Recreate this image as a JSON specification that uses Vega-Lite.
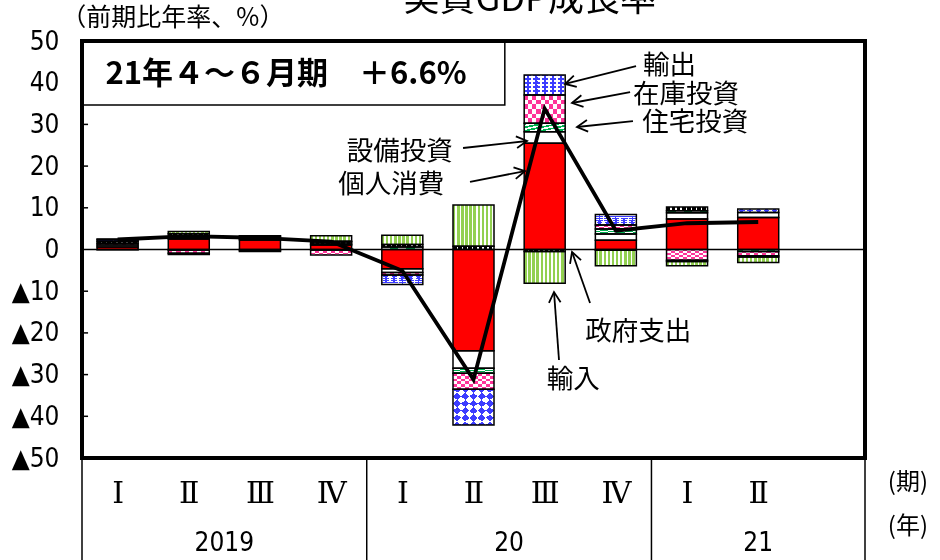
{
 "$schema": "https://vega.github.io/schema/vega-lite/v6.json",
 "width": 783,
 "height": 417,
 "autosize": {"type": "none"},
 "padding": {"left": 82, "top": 41, "right": 75, "bottom": 102},
 "background": "white",
 "config": {
  "view": {"stroke": null},
  "axis": {"grid": false, "domain": false, "ticks": false, "title": null, "labelColor": "black"}
 },
 "datasets": {
  "contrib": [
   {"t": 0.5, "c": "個人消費", "v": 0.6}, {"t": 1.5, "c": "個人消費", "v": 2.5}, {"t": 2.5, "c": "個人消費", "v": 2.3}, {"t": 3.5, "c": "個人消費", "v": 1.1}, {"t": 4.5, "c": "個人消費", "v": -4.6},
   {"t": 5.5, "c": "個人消費", "v": -24.3}, {"t": 6.5, "c": "個人消費", "v": 25.5}, {"t": 7.5, "c": "個人消費", "v": 2.2}, {"t": 8.5, "c": "個人消費", "v": 7.3}, {"t": 9.5, "c": "個人消費", "v": 7.7},
   {"t": 0.5, "c": "設備投資", "v": 0.5}, {"t": 1.5, "c": "設備投資", "v": 0.4}, {"t": 2.5, "c": "設備投資", "v": 0.2}, {"t": 3.5, "c": "設備投資", "v": -0.1}, {"t": 4.5, "c": "設備投資", "v": -0.9},
   {"t": 5.5, "c": "設備投資", "v": -4.2}, {"t": 6.5, "c": "設備投資", "v": 2.75}, {"t": 7.5, "c": "設備投資", "v": 1.5}, {"t": 8.5, "c": "設備投資", "v": 1.5}, {"t": 9.5, "c": "設備投資", "v": 1.2},
   {"t": 0.5, "c": "住宅投資", "v": -0.05}, {"t": 1.5, "c": "住宅投資", "v": -0.1}, {"t": 2.5, "c": "住宅投資", "v": 0.2}, {"t": 3.5, "c": "住宅投資", "v": 0.2}, {"t": 4.5, "c": "住宅投資", "v": 0.6},
   {"t": 5.5, "c": "住宅投資", "v": -1.2}, {"t": 6.5, "c": "住宅投資", "v": 2.05}, {"t": 7.5, "c": "住宅投資", "v": 1.2}, {"t": 8.5, "c": "住宅投資", "v": 0.5}, {"t": 9.5, "c": "住宅投資", "v": -0.5},
   {"t": 0.5, "c": "在庫投資", "v": 0.4}, {"t": 1.5, "c": "在庫投資", "v": -0.8}, {"t": 2.5, "c": "在庫投資", "v": -0.3}, {"t": 3.5, "c": "在庫投資", "v": -1.2}, {"t": 4.5, "c": "在庫投資", "v": -0.6},
   {"t": 5.5, "c": "在庫投資", "v": -3.8}, {"t": 6.5, "c": "在庫投資", "v": 6.75}, {"t": 7.5, "c": "在庫投資", "v": 1.0}, {"t": 8.5, "c": "在庫投資", "v": -2.6}, {"t": 9.5, "c": "在庫投資", "v": -1.0},
   {"t": 0.5, "c": "政府支出", "v": 0.5}, {"t": 1.5, "c": "政府支出", "v": 0.9}, {"t": 2.5, "c": "政府支出", "v": 0.5}, {"t": 3.5, "c": "政府支出", "v": 0.5}, {"t": 4.5, "c": "政府支出", "v": 0.6},
   {"t": 5.5, "c": "政府支出", "v": 0.8}, {"t": 6.5, "c": "政府支出", "v": -0.5}, {"t": 7.5, "c": "政府支出", "v": -0.2}, {"t": 8.5, "c": "政府支出", "v": 0.9}, {"t": 9.5, "c": "政府支出", "v": -0.3},
   {"t": 0.5, "c": "輸出", "v": 0.4}, {"t": 1.5, "c": "輸出", "v": -0.3}, {"t": 2.5, "c": "輸出", "v": 0.1}, {"t": 3.5, "c": "輸出", "v": 0.2}, {"t": 4.5, "c": "輸出", "v": -2.3},
   {"t": 5.5, "c": "輸出", "v": -8.6}, {"t": 6.5, "c": "輸出", "v": 4.8}, {"t": 7.5, "c": "輸出", "v": 2.5}, {"t": 8.5, "c": "輸出", "v": -0.3}, {"t": 9.5, "c": "輸出", "v": 0.8},
   {"t": 0.5, "c": "輸入", "v": 0.1}, {"t": 1.5, "c": "輸入", "v": 0.5}, {"t": 2.5, "c": "輸入", "v": -0.2}, {"t": 3.5, "c": "輸入", "v": 1.3}, {"t": 4.5, "c": "輸入", "v": 2.2},
   {"t": 5.5, "c": "輸入", "v": 9.9}, {"t": 6.5, "c": "輸入", "v": -7.6}, {"t": 7.5, "c": "輸入", "v": -3.7}, {"t": 8.5, "c": "輸入", "v": -1.0}, {"t": 9.5, "c": "輸入", "v": -1.3}
  ],
  "gdp": [
   {"t": 0.5, "gdp": 2.4}, {"t": 1.5, "gdp": 3.2}, {"t": 2.5, "gdp": 2.8}, {"t": 3.5, "gdp": 1.9}, {"t": 4.5, "gdp": -5.1},
   {"t": 5.5, "gdp": -31.2}, {"t": 6.5, "gdp": 33.8}, {"t": 7.5, "gdp": 4.5}, {"t": 8.5, "gdp": 6.3}, {"t": 9.5, "gdp": 6.6}
  ],
  "years": [{"label": "2019", "t": 2}, {"label": "20", "t": 6}, {"label": "21", "t": 9.5}],
  "seps": [{"t": 0}, {"t": 4}, {"t": 8}, {"t": 11}],
  "ticks": [{"yv": -40}, {"yv": -30}, {"yv": -20}, {"yv": -10}, {"yv": 10}, {"yv": 20}, {"yv": 30}, {"yv": 40}],
  "ann": [
   {"label": "輸出", "x1": 7.783, "y1": 44.0, "x2": 6.786, "y2": 39.69, "ang": 165.4, "tx": 7.88, "ty": 44.0},
   {"label": "在庫投資", "x1": 7.70, "y1": 37.75, "x2": 6.884, "y2": 35.13, "ang": 169.3, "tx": 7.74, "ty": 37.05},
   {"label": "住宅投資", "x1": 7.74, "y1": 30.81, "x2": 6.954, "y2": 29.38, "ang": 173.9, "tx": 7.87, "ty": 30.34},
   {"label": "設備投資", "x1": 5.353, "y1": 24.34, "x2": 6.252, "y2": 26.02, "ang": -6.2, "tx": 3.72, "ty": 23.38},
   {"label": "個人消費", "x1": 5.451, "y1": 16.19, "x2": 6.224, "y2": 18.82, "ang": -11.3, "tx": 3.6, "ty": 15.47},
   {"label": "政府支出", "x1": 7.137, "y1": -12.83, "x2": 6.884, "y2": -0.6, "ang": -109.4, "tx": 7.07, "ty": -19.78},
   {"label": "輸入", "x1": 6.701, "y1": -26.5, "x2": 6.631, "y2": -10.19, "ang": -94.2, "tx": 6.53, "ty": -31.3}
  ]
 },
 "layer": [
  {
   "data": {"values": [{}]},
   "mark": {"type": "rule", "stroke": "black", "strokeWidth": 1.5},
   "encoding": {"y": {"datum": 0, "type": "quantitative", "scale": {"domain": [-50, 50], "nice": false, "zero": false}}}
  },
  {
   "data": {"name": "ticks"},
   "mark": {"type": "rule", "stroke": "black", "strokeWidth": 1.5},
   "encoding": {
    "x": {"datum": 0, "type": "quantitative"},
    "x2": {"datum": 0.085},
    "y": {"field": "yv", "type": "quantitative"}
   }
  },
  {
   "data": {"name": "seps"},
   "mark": {"type": "rule", "stroke": "black", "strokeWidth": 1.5},
   "encoding": {
    "x": {"field": "t", "type": "quantitative"},
    "y": {"datum": -50, "type": "quantitative"},
    "y2": {"datum": -80}
   }
  },
  {
   "data": {"name": "contrib"},
   "transform": [
    {"calculate": "indexof(['個人消費','設備投資','住宅投資','在庫投資','政府支出','輸出','輸入'], datum.c)", "as": "ord"},
    {"stack": "v", "groupby": ["t"], "sort": [{"field": "ord", "order": "ascending"}], "as": ["v0", "v1"]}
   ],
   "encoding": {
    "x": {"field": "t", "type": "quantitative", "scale": {"domain": [0, 11], "nice": false, "zero": false, "padding": 0},
     "axis": {"values": [0.5, 1.5, 2.5, 3.5, 4.5, 5.5, 6.5, 7.5, 8.5, 9.5], "labelExpr": "['Ⅰ','Ⅱ','Ⅲ','Ⅳ'][floor(datum.value) % 4]", "labelFont": "DejaVu Serif", "labelFontSize": 30, "labelPadding": 35, "labelBaseline": "middle", "labelFlush": false, "labelOverlap": false}},
    "y": {"field": "v0", "type": "quantitative", "scale": {"domain": [-50, 50], "nice": false, "zero": false},
     "axis": {"values": [-50, -40, -30, -20, -10, 0, 10, 20, 30, 40, 50], "labelExpr": "datum.value < 0 ? '▲' + abs(datum.value) : '' + datum.value", "labelFont": "Liberation Sans Narrow, DejaVu Sans Condensed, Liberation Sans, sans-serif", "labelFontSize": 26, "labelPadding": 23, "labelOverlap": false}},
    "y2": {"field": "v1"}
   },
   "layer": [
    {"transform": [{"filter": "datum.c == '個人消費'"}], "mark": {"type": "bar", "width": 41, "fill": "#FF0000", "strokeWidth": 0}},
    {"transform": [{"filter": "datum.c == '設備投資'"}], "mark": {"type": "bar", "width": 41, "fill": "#FFFFFF", "strokeWidth": 0}},
    {"transform": [{"filter": "datum.c == '住宅投資'"}], "mark": {"type": "bar", "width": 41, "strokeWidth": 0,
     "fill": {"gradient": "linear", "x1": 0, "y1": 0, "x2": 1, "y2": 1, "stops": [
      {"offset": 0, "color": "#00B050"}, {"offset": 0.1, "color": "#00B050"}, {"offset": 0.1, "color": "#FFFFFF"}, {"offset": 0.2, "color": "#FFFFFF"},
      {"offset": 0.2, "color": "#00B050"}, {"offset": 0.3, "color": "#00B050"}, {"offset": 0.3, "color": "#FFFFFF"}, {"offset": 0.4, "color": "#FFFFFF"},
      {"offset": 0.4, "color": "#00B050"}, {"offset": 0.5, "color": "#00B050"}, {"offset": 0.5, "color": "#FFFFFF"}, {"offset": 0.6, "color": "#FFFFFF"},
      {"offset": 0.6, "color": "#00B050"}, {"offset": 0.7, "color": "#00B050"}, {"offset": 0.7, "color": "#FFFFFF"}, {"offset": 0.8, "color": "#FFFFFF"},
      {"offset": 0.8, "color": "#00B050"}, {"offset": 0.9, "color": "#00B050"}, {"offset": 0.9, "color": "#FFFFFF"}, {"offset": 1, "color": "#FFFFFF"}]}}},
    {"transform": [{"filter": "datum.c == '在庫投資'"}], "mark": {"type": "bar", "width": 41, "strokeWidth": 0,
     "fill": {"gradient": "linear", "x1": 0, "y1": 0, "x2": 1, "y2": 0, "stops": [
      {"offset": 0, "color": "#000000"}, {"offset": 0.1, "color": "#000000"}, {"offset": 0.1, "color": "#FFFFFF"}, {"offset": 0.2, "color": "#FFFFFF"},
      {"offset": 0.2, "color": "#000000"}, {"offset": 0.3, "color": "#000000"}, {"offset": 0.3, "color": "#FFFFFF"}, {"offset": 0.4, "color": "#FFFFFF"},
      {"offset": 0.4, "color": "#000000"}, {"offset": 0.5, "color": "#000000"}, {"offset": 0.5, "color": "#FFFFFF"}, {"offset": 0.6, "color": "#FFFFFF"},
      {"offset": 0.6, "color": "#000000"}, {"offset": 0.7, "color": "#000000"}, {"offset": 0.7, "color": "#FFFFFF"}, {"offset": 0.8, "color": "#FFFFFF"},
      {"offset": 0.8, "color": "#000000"}, {"offset": 0.9, "color": "#000000"}, {"offset": 0.9, "color": "#FFFFFF"}, {"offset": 1, "color": "#FFFFFF"}]}}},
    {"transform": [{"filter": "datum.c == '在庫投資'"}], "mark": {"type": "bar", "width": 41, "strokeWidth": 0, "blend": "difference",
     "fill": {"gradient": "linear", "x1": 0, "y1": 0, "x2": 0, "y2": 1, "stops": [
      {"offset": 0, "color": "#000000"}, {"offset": 0.1667, "color": "#000000"}, {"offset": 0.1667, "color": "#FFFFFF"}, {"offset": 0.3333, "color": "#FFFFFF"},
      {"offset": 0.3333, "color": "#000000"}, {"offset": 0.5, "color": "#000000"}, {"offset": 0.5, "color": "#FFFFFF"}, {"offset": 0.6667, "color": "#FFFFFF"},
      {"offset": 0.6667, "color": "#000000"}, {"offset": 0.8333, "color": "#000000"}, {"offset": 0.8333, "color": "#FFFFFF"}, {"offset": 1, "color": "#FFFFFF"}]}}},
    {"transform": [{"filter": "datum.c == '在庫投資'"}], "mark": {"type": "bar", "width": 41, "strokeWidth": 0, "blend": "lighten", "fill": "#FF3399"}},
    {"transform": [{"filter": "datum.c == '政府支出'"}], "mark": {"type": "bar", "width": 41, "strokeWidth": 0,
     "fill": {"gradient": "linear", "x1": 0, "y1": 0, "x2": 1, "y2": 0, "stops": [
      {"offset": 0, "color": "#000000"}, {"offset": 0.0875, "color": "#000000"}, {"offset": 0.0875, "color": "#FFFFFF"}, {"offset": 0.125, "color": "#FFFFFF"},
      {"offset": 0.125, "color": "#000000"}, {"offset": 0.2125, "color": "#000000"}, {"offset": 0.2125, "color": "#FFFFFF"}, {"offset": 0.25, "color": "#FFFFFF"},
      {"offset": 0.25, "color": "#000000"}, {"offset": 0.3375, "color": "#000000"}, {"offset": 0.3375, "color": "#FFFFFF"}, {"offset": 0.375, "color": "#FFFFFF"},
      {"offset": 0.375, "color": "#000000"}, {"offset": 0.4625, "color": "#000000"}, {"offset": 0.4625, "color": "#FFFFFF"}, {"offset": 0.5, "color": "#FFFFFF"},
      {"offset": 0.5, "color": "#000000"}, {"offset": 0.5875, "color": "#000000"}, {"offset": 0.5875, "color": "#FFFFFF"}, {"offset": 0.625, "color": "#FFFFFF"},
      {"offset": 0.625, "color": "#000000"}, {"offset": 0.7125, "color": "#000000"}, {"offset": 0.7125, "color": "#FFFFFF"}, {"offset": 0.75, "color": "#FFFFFF"},
      {"offset": 0.75, "color": "#000000"}, {"offset": 0.8375, "color": "#000000"}, {"offset": 0.8375, "color": "#FFFFFF"}, {"offset": 0.875, "color": "#FFFFFF"},
      {"offset": 0.875, "color": "#000000"}, {"offset": 0.9625, "color": "#000000"}, {"offset": 0.9625, "color": "#FFFFFF"}, {"offset": 1, "color": "#FFFFFF"}]}}},
    {"transform": [{"filter": "datum.c == '輸出'"}], "mark": {"type": "bar", "width": 41, "strokeWidth": 0,
     "fill": {"gradient": "linear", "x1": 0, "y1": 0, "x2": 1, "y2": 1, "stops": [
      {"offset": 0, "color": "#000000"}, {"offset": 0.1, "color": "#000000"}, {"offset": 0.1, "color": "#FFFFFF"}, {"offset": 0.2, "color": "#FFFFFF"},
      {"offset": 0.2, "color": "#000000"}, {"offset": 0.3, "color": "#000000"}, {"offset": 0.3, "color": "#FFFFFF"}, {"offset": 0.4, "color": "#FFFFFF"},
      {"offset": 0.4, "color": "#000000"}, {"offset": 0.5, "color": "#000000"}, {"offset": 0.5, "color": "#FFFFFF"}, {"offset": 0.6, "color": "#FFFFFF"},
      {"offset": 0.6, "color": "#000000"}, {"offset": 0.7, "color": "#000000"}, {"offset": 0.7, "color": "#FFFFFF"}, {"offset": 0.8, "color": "#FFFFFF"},
      {"offset": 0.8, "color": "#000000"}, {"offset": 0.9, "color": "#000000"}, {"offset": 0.9, "color": "#FFFFFF"}, {"offset": 1, "color": "#FFFFFF"}]}}},
    {"transform": [{"filter": "datum.c == '輸出'"}], "mark": {"type": "bar", "width": 41, "strokeWidth": 0, "blend": "difference",
     "fill": {"gradient": "linear", "x1": 1, "y1": 0, "x2": 0, "y2": 1, "stops": [
      {"offset": 0, "color": "#000000"}, {"offset": 0.1, "color": "#000000"}, {"offset": 0.1, "color": "#FFFFFF"}, {"offset": 0.2, "color": "#FFFFFF"},
      {"offset": 0.2, "color": "#000000"}, {"offset": 0.3, "color": "#000000"}, {"offset": 0.3, "color": "#FFFFFF"}, {"offset": 0.4, "color": "#FFFFFF"},
      {"offset": 0.4, "color": "#000000"}, {"offset": 0.5, "color": "#000000"}, {"offset": 0.5, "color": "#FFFFFF"}, {"offset": 0.6, "color": "#FFFFFF"},
      {"offset": 0.6, "color": "#000000"}, {"offset": 0.7, "color": "#000000"}, {"offset": 0.7, "color": "#FFFFFF"}, {"offset": 0.8, "color": "#FFFFFF"},
      {"offset": 0.8, "color": "#000000"}, {"offset": 0.9, "color": "#000000"}, {"offset": 0.9, "color": "#FFFFFF"}, {"offset": 1, "color": "#FFFFFF"}]}}},
    {"transform": [{"filter": "datum.c == '輸出'"}], "mark": {"type": "bar", "width": 41, "strokeWidth": 0, "blend": "lighten", "fill": "#3C3CFF"}},
    {"transform": [{"filter": "datum.c == '輸入'"}], "mark": {"type": "bar", "width": 41, "strokeWidth": 0,
     "fill": {"gradient": "linear", "x1": 0, "y1": 0, "x2": 1, "y2": 0, "stops": [
      {"offset": 0, "color": "#92D050"}, {"offset": 0.06, "color": "#92D050"}, {"offset": 0.06, "color": "#FFFFFF"}, {"offset": 0.1, "color": "#FFFFFF"},
      {"offset": 0.1, "color": "#92D050"}, {"offset": 0.16, "color": "#92D050"}, {"offset": 0.16, "color": "#FFFFFF"}, {"offset": 0.2, "color": "#FFFFFF"},
      {"offset": 0.2, "color": "#92D050"}, {"offset": 0.26, "color": "#92D050"}, {"offset": 0.26, "color": "#FFFFFF"}, {"offset": 0.3, "color": "#FFFFFF"},
      {"offset": 0.3, "color": "#92D050"}, {"offset": 0.36, "color": "#92D050"}, {"offset": 0.36, "color": "#FFFFFF"}, {"offset": 0.4, "color": "#FFFFFF"},
      {"offset": 0.4, "color": "#92D050"}, {"offset": 0.46, "color": "#92D050"}, {"offset": 0.46, "color": "#FFFFFF"}, {"offset": 0.5, "color": "#FFFFFF"},
      {"offset": 0.5, "color": "#92D050"}, {"offset": 0.56, "color": "#92D050"}, {"offset": 0.56, "color": "#FFFFFF"}, {"offset": 0.6, "color": "#FFFFFF"},
      {"offset": 0.6, "color": "#92D050"}, {"offset": 0.66, "color": "#92D050"}, {"offset": 0.66, "color": "#FFFFFF"}, {"offset": 0.7, "color": "#FFFFFF"},
      {"offset": 0.7, "color": "#92D050"}, {"offset": 0.76, "color": "#92D050"}, {"offset": 0.76, "color": "#FFFFFF"}, {"offset": 0.8, "color": "#FFFFFF"},
      {"offset": 0.8, "color": "#92D050"}, {"offset": 0.86, "color": "#92D050"}, {"offset": 0.86, "color": "#FFFFFF"}, {"offset": 0.9, "color": "#FFFFFF"},
      {"offset": 0.9, "color": "#92D050"}, {"offset": 0.96, "color": "#92D050"}, {"offset": 0.96, "color": "#FFFFFF"}, {"offset": 1, "color": "#FFFFFF"}]}}},
    {"mark": {"type": "bar", "width": 41, "fill": "transparent", "stroke": "black", "strokeWidth": 1.5}}
   ]
  },
  {
   "data": {"name": "gdp"},
   "mark": {"type": "line", "stroke": "black", "strokeWidth": 3.8},
   "encoding": {
    "x": {"field": "t", "type": "quantitative"},
    "y": {"field": "gdp", "type": "quantitative"}
   }
  },
  {
   "data": {"values": [{}]},
   "mark": {"type": "rect", "fill": "white", "stroke": "black", "strokeWidth": 1.5},
   "encoding": {
    "x": {"datum": 0, "type": "quantitative"},
    "x2": {"datum": 5.94},
    "y": {"datum": 34.65, "type": "quantitative"},
    "y2": {"datum": 50}
   }
  },
  {
   "data": {"values": [{"txt": "21年４～６月期　＋6.6%"}]},
   "mark": {"type": "text", "align": "left", "baseline": "middle", "font": "Noto Sans CJK JP", "fontSize": 31, "fontWeight": "bold", "color": "black"},
   "encoding": {
    "x": {"datum": 0.33, "type": "quantitative"},
    "y": {"datum": 41.85, "type": "quantitative"},
    "text": {"field": "txt"}
   }
  },
  {
   "data": {"name": "ann"},
   "mark": {"type": "rule", "stroke": "black", "strokeWidth": 1.8},
   "encoding": {
    "x": {"field": "x1", "type": "quantitative"},
    "y": {"field": "y1", "type": "quantitative"},
    "x2": {"field": "x2"},
    "y2": {"field": "y2"}
   }
  },
  {
   "data": {"name": "ann"},
   "mark": {"type": "point", "shape": "M-1,-0.55L0,0L-1,0.55", "filled": false, "stroke": "black", "strokeWidth": 1.8, "size": 450, "opacity": 1},
   "encoding": {
    "x": {"field": "x2", "type": "quantitative"},
    "y": {"field": "y2", "type": "quantitative"},
    "angle": {"field": "ang", "type": "quantitative", "scale": null}
   }
  },
  {
   "data": {"name": "ann"},
   "mark": {"type": "text", "align": "left", "baseline": "middle", "font": "Noto Sans CJK JP", "fontSize": 26.5, "color": "black"},
   "encoding": {
    "x": {"field": "tx", "type": "quantitative"},
    "y": {"field": "ty", "type": "quantitative"},
    "text": {"field": "label"}
   }
  },
  {
   "data": {"values": [{}]},
   "mark": {"type": "rect", "fill": "transparent", "stroke": "black", "strokeWidth": 4},
   "encoding": {
    "x": {"datum": 0, "type": "quantitative"},
    "x2": {"datum": 11},
    "y": {"datum": -50, "type": "quantitative"},
    "y2": {"datum": 50}
   }
  },
  {
   "data": {"values": [{"txt": "実質GDP成長率"}]},
   "mark": {"type": "text", "align": "center", "baseline": "alphabetic", "font": "Noto Sans CJK JP", "fontSize": 36, "color": "black"},
   "encoding": {
    "x": {"datum": 6.29, "type": "quantitative"},
    "y": {"datum": 57.3, "type": "quantitative"},
    "text": {"field": "txt"}
   }
  },
  {
   "data": {"values": [{"txt": "（前期比年率、%）"}]},
   "mark": {"type": "text", "align": "left", "baseline": "middle", "font": "Noto Sans CJK JP", "fontSize": 25, "color": "black"},
   "encoding": {
    "x": {"datum": -0.29, "type": "quantitative"},
    "y": {"datum": 55.4, "type": "quantitative"},
    "text": {"field": "txt"}
   }
  },
  {
   "data": {"values": [{"txt": "(期)"}]},
   "mark": {"type": "text", "align": "left", "baseline": "middle", "font": "Noto Sans CJK JP", "fontSize": 24, "color": "black"},
   "encoding": {
    "x": {"datum": 11.32, "type": "quantitative"},
    "y": {"datum": -56.0, "type": "quantitative"},
    "text": {"field": "txt"}
   }
  },
  {
   "data": {"values": [{"txt": "(年)"}]},
   "mark": {"type": "text", "align": "left", "baseline": "middle", "font": "Noto Sans CJK JP", "fontSize": 24, "color": "black"},
   "encoding": {
    "x": {"datum": 11.32, "type": "quantitative"},
    "y": {"datum": -66.5, "type": "quantitative"},
    "text": {"field": "txt"}
   }
  },
  {
   "data": {"name": "years"},
   "mark": {"type": "text", "align": "center", "baseline": "middle", "font": "Liberation Sans Narrow, DejaVu Sans Condensed, Liberation Sans, sans-serif", "fontSize": 26, "color": "black"},
   "encoding": {
    "x": {"field": "t", "type": "quantitative"},
    "y": {"datum": -70.4, "type": "quantitative"},
    "text": {"field": "label"}
   }
  }
 ]
}
